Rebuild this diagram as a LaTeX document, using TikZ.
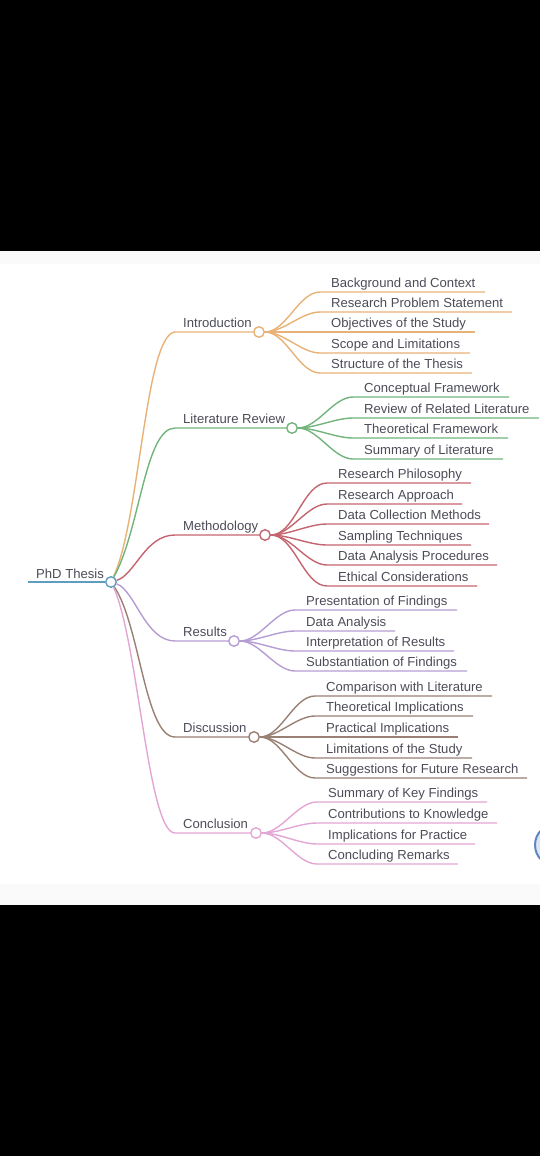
\documentclass[tikz,border=0pt]{standalone}
\usepackage{fontspec}
\setmainfont{Liberation Sans}
\definecolor{inkgray}{HTML}{4C4C58}
\definecolor{rootblue}{HTML}{5E9CC0}
\definecolor{introorange}{HTML}{E8B276}
\definecolor{litgreen}{HTML}{72B47C}
\definecolor{methred}{HTML}{C4646E}
\definecolor{respurple}{HTML}{B59CD2}
\definecolor{discbrown}{HTML}{9A8074}
\definecolor{concpink}{HTML}{E3A6D4}
\definecolor{sealblue}{HTML}{5F86C0}
\definecolor{sealfill}{HTML}{DCE5F3}
\definecolor{pageedge}{HTML}{FAFAFA}
\tikzset{
    topic/.style={anchor=south west,inner xsep=8pt,inner ysep=0pt,text height=9.5pt,text depth=4pt,font=\fontsize{13.1}{15}\selectfont,text=inkgray},
    leaf/.style={anchor=south west,inner xsep=11pt,inner ysep=0pt,text height=9.5pt,text depth=4pt,font=\fontsize{13.1}{15}\selectfont,text=inkgray},
    hub/.style={circle,draw,fill=white,line width=1.4pt,minimum size=10.5pt,inner sep=0pt},
    wire/.style={line width=1.4pt}
}
\begin{document}
\begin{tikzpicture}[x=1pt,y=-1pt]
    \useasboundingbox (0,0) rectangle (540,1156);
    \fill[black] (0,0) rectangle (540,251);
    \fill[black] (0,905) rectangle (540,1156);
    \fill[pageedge] (0,251) rectangle (540,264);
    \fill[pageedge] (0,884) rectangle (540,905);
    \begin{scope}
        \clip (500,810) rectangle (540,880);
        \draw[sealblue,line width=2pt,fill=sealfill] (556,845) circle (21);
    \end{scope}

    % root and its branches
    \node[topic,text depth=3pt] (thesis) at (28,582) {PhD Thesis};
    \node[hub,draw=rootblue] (root) at (111,582) {};

    \node[topic] (introlabel) at (175,332) {Introduction};
    \node[topic] (litlabel) at (175,428) {Literature Review};
    \node[topic] (methlabel) at (175,535) {Methodology};
    \node[topic] (reslabel) at (175,641) {Results};
    \node[topic] (disclabel) at (175,737) {Discussion};
    \node[topic] (conclabel) at (175,833) {Conclusion};

    \node[hub,draw=introorange] (intro) at (259,332) {};
    \node[hub,draw=litgreen] (lit) at (292,428) {};
    \node[hub,draw=methred] (meth) at (265,535) {};
    \node[hub,draw=respurple] (res) at (234,641) {};
    \node[hub,draw=discbrown] (disc) at (254,737) {};
    \node[hub,draw=concpink] (conc) at (256,833) {};

    \draw[wire,rootblue] (thesis.south west) to (root);
    \draw[wire,introorange] (root) .. controls (140,520) and (145,335) .. (introlabel.south west) to (intro);
    \draw[wire,litgreen] (root) .. controls (140,530) and (145,428) .. (litlabel.south west) to (lit);
    \draw[wire,methred] (root) .. controls (135,575) and (145,535) .. (methlabel.south west) to (meth);
    \draw[wire,respurple] (root) .. controls (135,590) and (145,641) .. (reslabel.south west) to (res);
    \draw[wire,discbrown] (root) .. controls (140,625) and (145,737) .. (disclabel.south west) to (disc);
    \draw[wire,concpink] (root) .. controls (138,640) and (148,833) .. (conclabel.south west) to (conc);

    % Introduction
    \node[leaf] (bg) at (320,292) {Background and Context};
    \node[leaf] (problem) at (320,312) {Research Problem Statement};
    \node[leaf] (objectives) at (320,332) {Objectives of the Study};
    \node[leaf] (scope) at (320,353) {Scope and Limitations};
    \node[leaf] (structure) at (320,373) {Structure of the Thesis};
    \coordinate (bgend) at (485,292);
    \coordinate (problemend) at (512,312);
    \coordinate (objectivesend) at (475,332);
    \coordinate (scopeend) at (470,353);
    \coordinate (structureend) at (472,373);
    \draw[wire,introorange] (intro) to[out=0,in=180,looseness=0.8] (bg.south west) to (bgend);
    \draw[wire,introorange] (intro) to[out=0,in=180,looseness=0.8] (problem.south west) to (problemend);
    \draw[wire,introorange] (intro) to (objectives.south west) to (objectivesend);
    \draw[wire,introorange] (intro) to[out=0,in=180,looseness=0.8] (scope.south west) to (scopeend);
    \draw[wire,introorange] (intro) to[out=0,in=180,looseness=0.8] (structure.south west) to (structureend);

    % Literature Review
    \node[leaf] (conceptual) at (353,397) {Conceptual Framework};
    \node[leaf] (related) at (353,418) {Review of Related Literature};
    \node[leaf] (theoretical) at (353,438) {Theoretical Framework};
    \node[leaf] (litsummary) at (353,459) {Summary of Literature};
    \coordinate (conceptualend) at (509,397);
    \coordinate (relatedend) at (539,418);
    \coordinate (theoreticalend) at (508,438);
    \coordinate (litsummaryend) at (503,459);
    \draw[wire,litgreen] (lit) to[out=0,in=180,looseness=0.8] (conceptual.south west) to (conceptualend);
    \draw[wire,litgreen] (lit) to[out=0,in=180,looseness=0.8] (related.south west) to (relatedend);
    \draw[wire,litgreen] (lit) to[out=0,in=180,looseness=0.8] (theoretical.south west) to (theoreticalend);
    \draw[wire,litgreen] (lit) to[out=0,in=180,looseness=0.8] (litsummary.south west) to (litsummaryend);

    % Methodology
    \node[leaf] (philosophy) at (327,483) {Research Philosophy};
    \node[leaf] (approach) at (327,504) {Research Approach};
    \node[leaf] (collection) at (327,524) {Data Collection Methods};
    \node[leaf] (sampling) at (327,545) {Sampling Techniques};
    \node[leaf] (procedures) at (327,565) {Data Analysis Procedures};
    \node[leaf] (ethical) at (327,586) {Ethical Considerations};
    \coordinate (philosophyend) at (471,483);
    \coordinate (approachend) at (462,504);
    \coordinate (collectionend) at (489,524);
    \coordinate (samplingend) at (471,545);
    \coordinate (proceduresend) at (497,565);
    \coordinate (ethicalend) at (477,586);
    \draw[wire,methred] (meth) to[out=0,in=180,looseness=0.8] (philosophy.south west) to (philosophyend);
    \draw[wire,methred] (meth) to[out=0,in=180,looseness=0.8] (approach.south west) to (approachend);
    \draw[wire,methred] (meth) to[out=0,in=180,looseness=0.8] (collection.south west) to (collectionend);
    \draw[wire,methred] (meth) to[out=0,in=180,looseness=0.8] (sampling.south west) to (samplingend);
    \draw[wire,methred] (meth) to[out=0,in=180,looseness=0.8] (procedures.south west) to (proceduresend);
    \draw[wire,methred] (meth) to[out=0,in=180,looseness=0.8] (ethical.south west) to (ethicalend);

    % Results
    \node[leaf] (presentation) at (295,610) {Presentation of Findings};
    \node[leaf] (analysis) at (295,631) {Data Analysis};
    \node[leaf] (interpretation) at (295,651) {Interpretation of Results};
    \node[leaf] (substantiation) at (295,671) {Substantiation of Findings};
    \coordinate (presentationend) at (457,610);
    \coordinate (analysisend) at (395,631);
    \coordinate (interpretationend) at (454,651);
    \coordinate (substantiationend) at (467,671);
    \draw[wire,respurple] (res) to[out=0,in=180,looseness=0.8] (presentation.south west) to (presentationend);
    \draw[wire,respurple] (res) to[out=0,in=180,looseness=0.8] (analysis.south west) to (analysisend);
    \draw[wire,respurple] (res) to[out=0,in=180,looseness=0.8] (interpretation.south west) to (interpretationend);
    \draw[wire,respurple] (res) to[out=0,in=180,looseness=0.8] (substantiation.south west) to (substantiationend);

    % Discussion
    \node[leaf] (comparison) at (315,696) {Comparison with Literature};
    \node[leaf] (implications) at (315,716) {Theoretical Implications};
    \node[leaf] (practical) at (315,737) {Practical Implications};
    \node[leaf] (limitations) at (315,758) {Limitations of the Study};
    \node[leaf] (suggestions) at (315,778) {Suggestions for Future Research};
    \coordinate (comparisonend) at (492,696);
    \coordinate (implicationsend) at (473,716);
    \coordinate (practicalend) at (458,737);
    \coordinate (limitationsend) at (472,758);
    \coordinate (suggestionsend) at (527,778);
    \draw[wire,discbrown] (disc) to[out=0,in=180,looseness=0.8] (comparison.south west) to (comparisonend);
    \draw[wire,discbrown] (disc) to[out=0,in=180,looseness=0.8] (implications.south west) to (implicationsend);
    \draw[wire,discbrown] (disc) to (practical.south west) to (practicalend);
    \draw[wire,discbrown] (disc) to[out=0,in=180,looseness=0.8] (limitations.south west) to (limitationsend);
    \draw[wire,discbrown] (disc) to[out=0,in=180,looseness=0.8] (suggestions.south west) to (suggestionsend);

    % Conclusion
    \node[leaf] (keyfindings) at (317,802) {Summary of Key Findings};
    \node[leaf] (knowledge) at (317,823) {Contributions to Knowledge};
    \node[leaf] (practice) at (317,844) {Implications for Practice};
    \node[leaf] (remarks) at (317,864) {Concluding Remarks};
    \coordinate (keyfindingsend) at (487,802);
    \coordinate (knowledgeend) at (497,823);
    \coordinate (practiceend) at (475,844);
    \coordinate (remarksend) at (458,864);
    \draw[wire,concpink] (conc) to[out=0,in=180,looseness=0.8] (keyfindings.south west) to (keyfindingsend);
    \draw[wire,concpink] (conc) to[out=0,in=180,looseness=0.8] (knowledge.south west) to (knowledgeend);
    \draw[wire,concpink] (conc) to[out=0,in=180,looseness=0.8] (practice.south west) to (practiceend);
    \draw[wire,concpink] (conc) to[out=0,in=180,looseness=0.8] (remarks.south west) to (remarksend);
\end{tikzpicture}
\end{document}
